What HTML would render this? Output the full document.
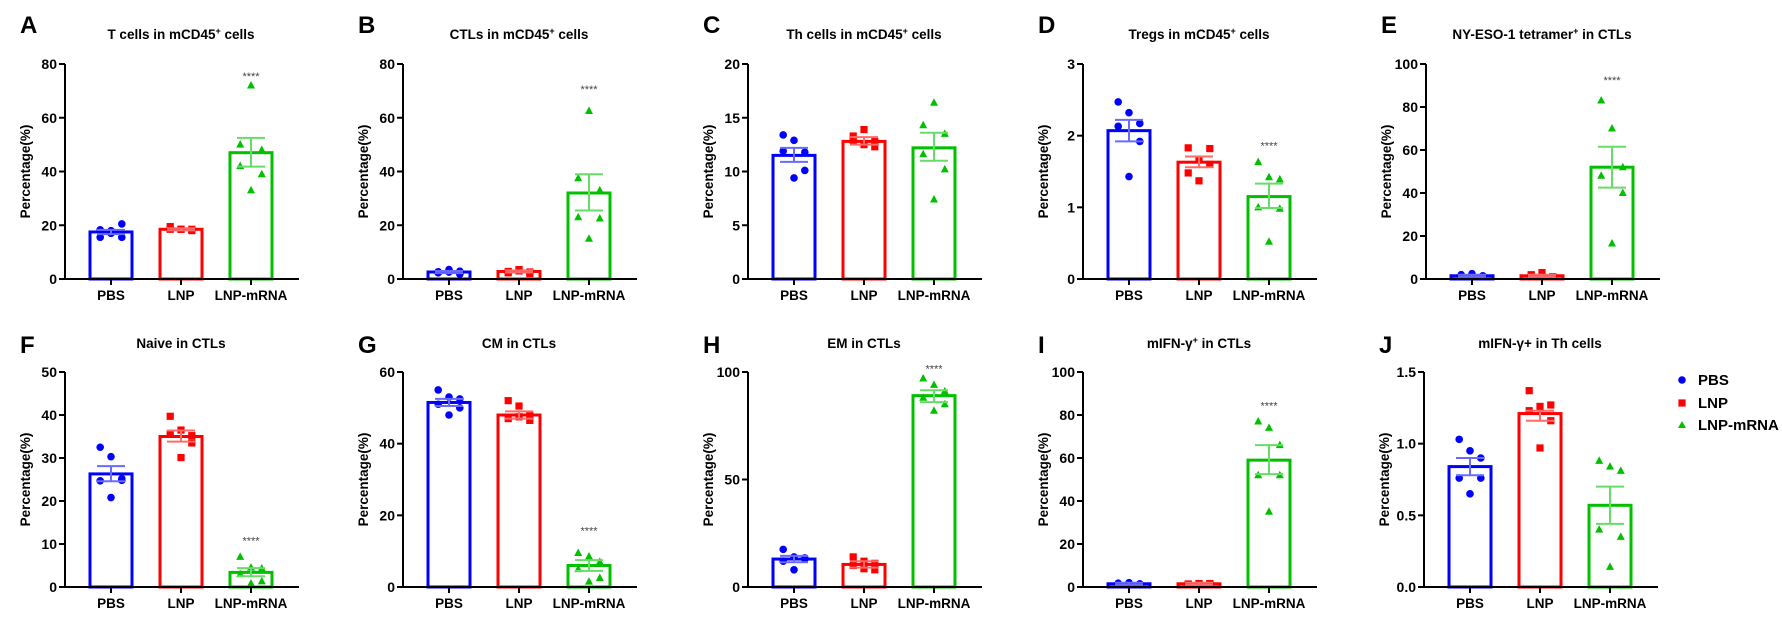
<!DOCTYPE html>
<html><head><meta charset="utf-8"><style>
html,body{margin:0;padding:0;background:#fff;}
svg text{font-family:"Liberation Sans",Arial,sans-serif;}
</style></head><body>
<svg id="s" width="1782" height="622" xmlns="http://www.w3.org/2000/svg"></svg>
<script>
const S=document.getElementById('s');
const C=['#0000ff','#ff0000','#00c000'];
const EC=['#6a6aff','#ff6a6a','#66dd66'];
let h='';
function P(o){
 const ax=o.ax,top=o.top,bot=o.bot,max=o.max;
 const Y=v=>bot-(v/max)*(bot-top);
 const cx=[ax+46,ax+116,ax+186];
 // letter & title
 h+=`<text x="${ax-45}" y="${o.row?353:33}" font-size="24" font-weight="bold">${o.L}</text>`;
 h+=`<text x="${ax+116}" y="${o.row?348:39}" font-size="13.5" font-weight="bold" text-anchor="middle">${o.t}</text>`;
 // bars
 o.d.forEach((g,i)=>{
  const m=g[0];
  h+=`<rect x="${cx[i]-21}" y="${Y(m)}" width="42" height="${bot-Y(m)}" fill="none" stroke="${C[i]}" stroke-width="3"/>`;
 });
 // points
 const jit=[-13,0,13,-13,0,13];
 o.d.forEach((g,i)=>{
  const pts=g[3];
  pts.forEach((v,k)=>{
   const x=cx[i]+(k<3?[0,-12,12][k]:[ -12,12,0][k-3])*0.9, y=Y(v);
   if(i==0) h+=`<circle cx="${x}" cy="${y}" r="3.8" fill="${C[0]}"/>`;
   else if(i==1) h+=`<rect x="${x-3.6}" y="${y-3.6}" width="7.2" height="7.2" fill="${C[1]}"/>`;
   else h+=`<polygon points="${x},${y-4.5} ${x-4},${y+3} ${x+4},${y+3}" fill="${C[2]}"/>`;
  });
  // error bars
  const hi=g[1],lo=g[2];
  h+=`<g stroke="${EC[i]}" stroke-width="2"><line x1="${cx[i]}" y1="${Y(hi)}" x2="${cx[i]}" y2="${Y(lo)}"/><line x1="${cx[i]-14}" y1="${Y(hi)}" x2="${cx[i]+14}" y2="${Y(hi)}"/><line x1="${cx[i]-14}" y1="${Y(lo)}" x2="${cx[i]+14}" y2="${Y(lo)}"/></g>`;
 });
 if(o.star!=null) h+=`<text x="${cx[2]}" y="${Y(o.star)+5}" font-size="11" fill="#444" text-anchor="middle">****</text>`;
 // axes
 h+=`<line x1="${ax}" y1="${top}" x2="${ax}" y2="${bot}" stroke="#000" stroke-width="2"/>`;
 h+=`<line x1="${ax}" y1="${bot}" x2="${ax+234}" y2="${bot}" stroke="#000" stroke-width="2"/>`;
 o.ticks.forEach(v=>{
  h+=`<line x1="${ax-6}" y1="${Y(v)}" x2="${ax}" y2="${Y(v)}" stroke="#000" stroke-width="2"/>`;
  h+=`<text x="${ax-8}" y="${Y(v)+5}" font-size="14" font-weight="bold" text-anchor="end">${o.tl?o.tl(v):v}</text>`;
 });
 ['PBS','LNP','LNP-mRNA'].forEach((l,i)=>{
  h+=`<line x1="${cx[i]}" y1="${bot}" x2="${cx[i]}" y2="${bot+6}" stroke="#000" stroke-width="2"/>`;
  h+=`<text x="${cx[i]}" y="${bot+21}" font-size="13.5" font-weight="bold" text-anchor="middle">${l}</text>`;
 });
 const my=(top+bot)/2;
 h+=`<text x="${ax-35}" y="${my}" font-size="13.5" font-weight="bold" text-anchor="middle" transform="rotate(-90 ${ax-35} ${my})">Percentage(%)</text>`;
}
const sup='<tspan font-size="9" dy="-5">+</tspan><tspan dy="5"> </tspan>';
const R1={top:64,bot:279,row:0},R2={top:372,bot:587,row:1};
P({...R1,ax:65,L:'A',t:'T cells  in mCD45'+sup+'cells',max:80,ticks:[0,20,40,60,80],star:76,
 d:[[17.5,18.3,16.7,[17,18.3,20.5,15.5,15.5,18]],[18.5,18.9,18.1,[18.5,19.5,18.5,18.5,18,18.5]],[47,52.5,41.8,[72,50,48,42,39,33]]]});
P({...R1,ax:403,L:'B',t:'CTLs  in mCD45'+sup+'cells',max:80,ticks:[0,20,40,60,80],star:71,
 d:[[2.6,3,2.2,[3.5,2.7,2.9,2.3,1.8,2.6]],[2.8,3.2,2.4,[3.5,2.8,2.6,2.3,2,3]],[32,39,25.5,[62.5,37.5,33,23,22.5,15]]]});
P({...R1,ax:748,L:'C',t:'Th cells in mCD45'+sup+'cells',max:20,ticks:[0,5,10,15,20],star:null,
 d:[[11.5,12.2,10.9,[12.9,13.4,11.8,11.9,10.1,9.4]],[12.8,13.2,12.5,[13.9,13.3,12.8,12.9,12.3,12.5]],[12.2,13.6,11,[16.4,14.3,13.5,11.6,10.2,7.4]]]});
P({...R1,ax:1083,L:'D',t:'Tregs in mCD45'+sup+'cells',max:3,ticks:[0,1,2,3],star:1.88,
 d:[[2.07,2.22,1.92,[2.32,2.47,2.17,2.13,1.92,1.43]],[1.63,1.71,1.56,[1.67,1.83,1.82,1.48,1.6,1.37]],[1.15,1.33,0.99,[1.42,1.63,1.39,1.0,0.98,0.52]]]});
P({...R1,ax:1426,L:'E',t:'NY-ESO-1 tetramer'+sup+'in CTLs',max:100,ticks:[0,20,40,60,80,100],star:93,
 d:[[1.5,2,1,[2.5,1,1.5,2,1,1.5]],[1.5,2,1,[1,2,1,1.5,1,3]],[52,61.5,42.5,[70,83,52,48,40,16.5]]]});
P({...R2,ax:65,L:'F',t:'Naive in CTLs',max:50,ticks:[0,10,20,30,40,50],star:11,
 d:[[26.3,28.1,24.6,[30.3,32.5,25.2,24.7,24.8,20.8]],[35,36.4,33.8,[36.5,39.7,35.2,35.6,33.5,30.1]],[3.4,4.4,2.5,[4.5,7,4.3,3,1.3,0.8]]]});
P({...R2,ax:403,L:'G',t:'CM in CTLs',max:60,ticks:[0,20,40,60],star:16,
 d:[[51.5,52.5,50.5,[53,55,52.5,51,50,48]],[48,49,47,[50.5,52,48,47,46.5,47.5]],[6,7.5,4.5,[8.5,9.5,7,5,2.5,1.5]]]});
P({...R2,ax:748,L:'H',t:'EM in CTLs',max:100,ticks:[0,50,100],star:102,
 d:[[13,14.5,11.5,[14,17.5,13,12,13.5,8]],[10.5,12,9,[12,14,11,10,8,8.5]],[89,91.5,86,[94,97,91,88,85,82]]]});
P({...R2,ax:1083,L:'I',t:'mIFN-γ'+sup+'in CTLs',max:100,ticks:[0,20,40,60,80,100],star:85,
 d:[[1.5,2,1,[2,1.5,1.5,1.8,1.2,1.4]],[1.5,2,1,[1.5,1.4,1.6,1.3,1.5,1.6]],[59,66,52.5,[74,77,66,52,52,35]]]});
P({...R2,ax:1424,L:'J',t:'mIFN-γ+ in Th cells',max:1.5,ticks:[0,0.5,1,1.5],tl:v=>v.toFixed(1),star:null,
 d:[[0.84,0.9,0.78,[0.95,1.03,0.9,0.76,0.76,0.65]],[1.21,1.23,1.16,[1.26,1.37,1.27,1.23,1.16,0.97]],[0.57,0.7,0.44,[0.84,0.88,0.81,0.4,0.35,0.14]]]});
// legend
h+=`<circle cx="1682" cy="380" r="3.8" fill="${C[0]}"/><text x="1698" y="385" font-size="15" font-weight="bold">PBS</text>`;
h+=`<rect x="1678.4" y="399.4" width="7.2" height="7.2" fill="${C[1]}"/><text x="1698" y="408" font-size="15" font-weight="bold">LNP</text>`;
h+=`<polygon points="1682,421 1678,428 1686,428" fill="${C[2]}"/><text x="1698" y="430" font-size="15" font-weight="bold">LNP-mRNA</text>`;
S.innerHTML=h;
</script>
</body></html>
